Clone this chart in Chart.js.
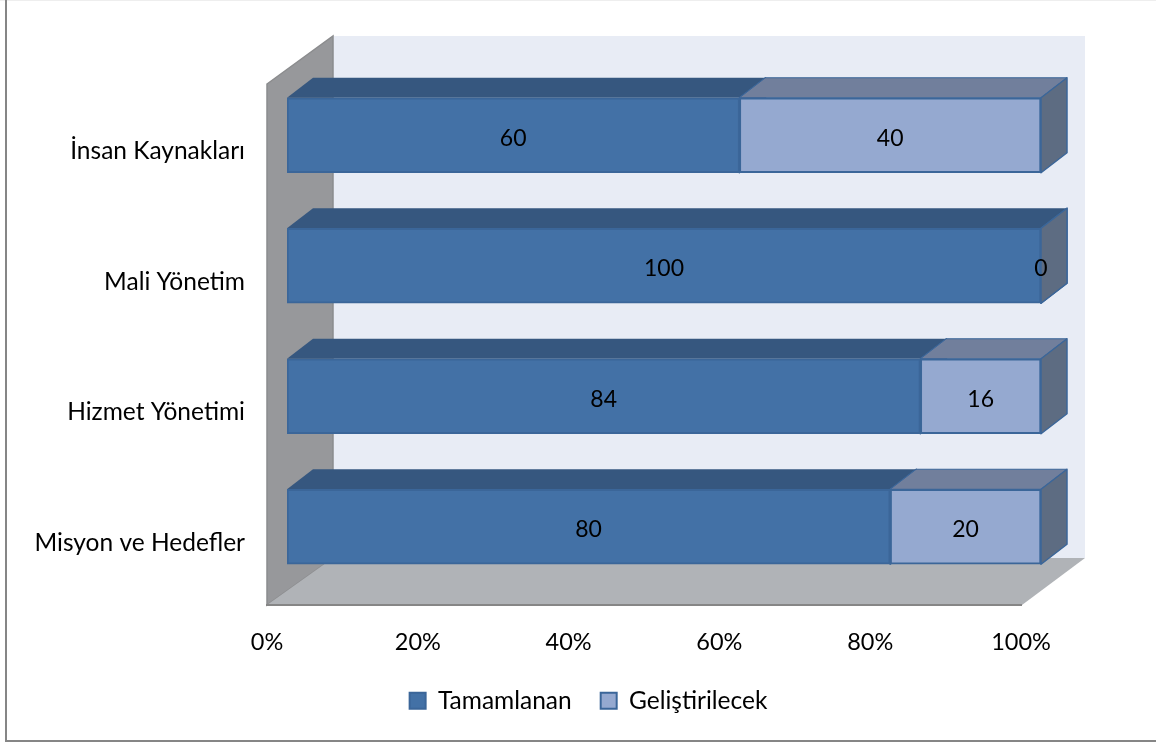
<!DOCTYPE html>
<html>
<head>
<meta charset="utf-8">
<style>
  html, body { margin: 0; padding: 0; background: #fff; }
  canvas { display: block; }
</style>
<script src="https://cdn.jsdelivr.net/npm/chart.js@4"></script>
</head>
<body>
<canvas id="out" width="1156" height="742"></canvas>
<script>
const categories = ['İnsan Kaynakları', 'Mali Yönetim', 'Hizmet Yönetimi', 'Misyon ve Hedefler'];
const tamamlanan = [60, 100, 84, 80];
const gelistirilecek = [40, 0, 16, 20];
const seriesNames = ['Tamamlanan', 'Geliştirilecek'];

const fontFamily = 'Lato, "Noto Sans", sans-serif';
const textSize = 24.5;
const valueSize = 23;
const tickSize = 23.5;

// colours for the faked 3d faces, per dataset
const topColors = ['#36577f', '#717f9c'];
const sideColor = '#5d6c82';
const edgeColor = '#3b6699';

// how far the box depth goes from the front face
const barDepthX = 26;
const barDepthY = 20;

function poly(ctx, points, fill, stroke, width) {
  ctx.beginPath();
  points.forEach((p, i) => i ? ctx.lineTo(p[0], p[1]) : ctx.moveTo(p[0], p[1]));
  ctx.closePath();
  ctx.fillStyle = fill;
  ctx.fill();
  if (stroke) {
    ctx.strokeStyle = stroke;
    ctx.lineWidth = width;
    ctx.stroke();
  }
}

const frame3d = {
  id: 'frame3d',
  afterLayout(chart) {
    // the legend sits centred under the whole picture, not under the plot box
    chart.legend.left += 136;
    chart.legend.adjustHitBoxes();
  },
  beforeDraw(chart) {
    const ctx = chart.ctx;
    ctx.save();
    ctx.fillStyle = '#fff';
    ctx.fillRect(0, 0, chart.width, chart.height);
    // outer frame of the picture
    ctx.fillStyle = '#eeeeee';
    ctx.fillRect(0, 0, chart.width, 1);
    ctx.fillStyle = '#868686';
    ctx.fillRect(5, 0, 2, chart.height - 1);
    ctx.fillRect(5, chart.height - 2, chart.width - 5, 2);

    const area = chart.chartArea;
    const left = area.left - 20;
    const right = area.right - 19;
    const floor = area.bottom + 13;
    const backLeft = left + 66;
    const backRight = right + 63;
    const backFloor = floor - 47;
    const top = area.top - 34;

    ctx.fillStyle = '#e8ecf5';
    ctx.fillRect(backLeft, top, backRight - backLeft, backFloor - top);
    poly(ctx, [[left, top + 48], [backLeft, top], [backLeft, backFloor], [left, floor]], '#97989b', '#8b8c8e', 1.5);
    poly(ctx, [[left, floor], [backLeft, backFloor], [backRight, backFloor], [right, floor]], '#b0b3b7');
    ctx.fillStyle = '#868686';
    ctx.fillRect(left - 1, floor - 1, right - left + 1, 2);
    ctx.restore();
  },
  beforeDatasetsDraw(chart) {
    const ctx = chart.ctx;
    ctx.save();
    ctx.lineJoin = 'round';
    chart.data.datasets.forEach((ds, d) => {
      chart.getDatasetMeta(d).data.forEach((bar) => {
        const y0 = bar.y - bar.height / 2;
        const y1 = bar.y + bar.height / 2;
        poly(ctx, [[bar.base, y0], [bar.x, y0], [bar.x + barDepthX, y0 - barDepthY], [bar.base + barDepthX, y0 - barDepthY]],
          topColors[d], d === 1 && bar.x - bar.base > 1 ? edgeColor : null, 1);
        poly(ctx, [[bar.x, y0], [bar.x + barDepthX, y0 - barDepthY], [bar.x + barDepthX, y1 - barDepthY], [bar.x, y1]],
          sideColor, edgeColor, 1.5);
      });
    });
    ctx.restore();
  },
  afterDatasetsDraw(chart) {
    const ctx = chart.ctx;
    ctx.save();
    ctx.fillStyle = '#000';
    ctx.font = valueSize + 'px ' + fontFamily;
    ctx.textAlign = 'center';
    ctx.textBaseline = 'middle';
    chart.data.datasets.forEach((ds, d) => {
      chart.getDatasetMeta(d).data.forEach((bar, i) => {
        ctx.fillText(ds.data[i], (bar.x + bar.base) / 2, bar.y + 3);
      });
    });
    ctx.restore();
  }
};

new Chart(document.getElementById('out').getContext('2d'), {
  type: 'bar',
  plugins: [frame3d],
  data: {
    labels: categories,
    datasets: [
      { label: seriesNames[0], data: tamamlanan, backgroundColor: '#4371a6', borderColor: '#3b6699' },
      { label: seriesNames[1], data: gelistirilecek, backgroundColor: '#95a9d0', borderColor: '#3b6699' }
    ]
  },
  options: {
    indexAxis: 'y',
    responsive: false,
    animation: false,
    layout: { padding: { left: 0, right: 115, top: 70, bottom: 19 } },
    datasets: { bar: { barThickness: 75, borderWidth: 2, borderSkipped: false } },
    scales: {
      x: {
        stacked: true,
        min: 0,
        max: 100,
        afterFit(scale) { scale.height = 67.5; },
        grid: { display: false, drawTicks: false },
        border: { display: false },
        ticks: {
          stepSize: 20,
          padding: 36,
          labelOffset: -20,
          maxRotation: 0,
          color: '#000',
          font: { family: fontFamily, size: tickSize },
          callback: (v) => v + '%'
        }
      },
      y: {
        stacked: true,
        afterFit(scale) { scale.width = 287; },
        grid: { display: false, drawTicks: false },
        border: { display: false },
        ticks: {
          padding: 42,
          labelOffset: 16,
          color: '#000',
          font: { family: fontFamily, size: textSize }
        }
      }
    },
    plugins: {
      tooltip: { enabled: false },
      legend: {
        position: 'bottom',
        labels: {
          boxWidth: 16,
          boxHeight: 16,
          padding: 29,
          color: '#000',
          font: { family: fontFamily, size: textSize }
        }
      }
    }
  }
});
</script>
</body>
</html>
